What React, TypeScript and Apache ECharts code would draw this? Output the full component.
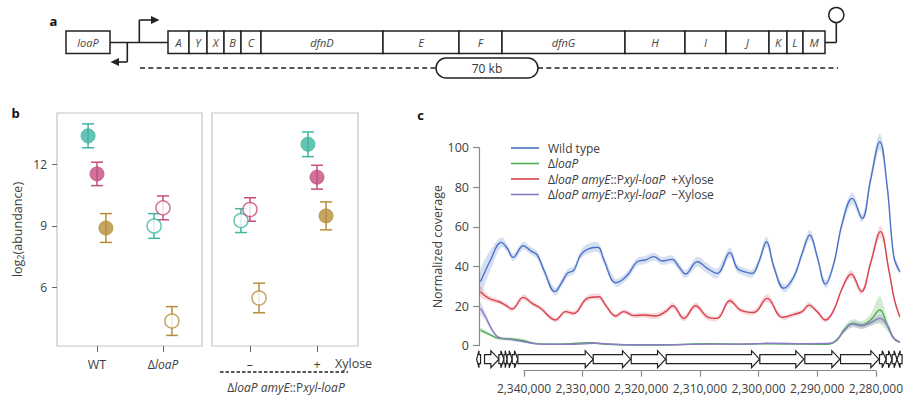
import React, { useEffect, useRef } from 'react';
import * as echarts from 'echarts';

const FONT = '"Open Sans", "Noto Sans", "DejaVu Sans", sans-serif';
const TXT = '#404040';
const INK = '#222';

// ---------- panel a : operon schematic ----------
const operonGenes = ['A', 'Y', 'X', 'B', 'C', 'dfnD', 'E', 'F', 'dfnG', 'H', 'I', 'J', 'K', 'L', 'M'];
const operonWidths = [21, 18, 17, 17, 20, 122, 76, 43, 123, 60, 41, 43, 18, 16, 22];
const operonDotGenes = ['A', 'dfnG', 'M'];

// ---------- panel b : abundance ----------
const groupsLeft = ['WT', 'ΔloaP'];
const groupsRight = ['–', '+'];
const abundanceTicks = [6, 9, 12];
const dfnGMean = [13.38, 9.0, 9.26, 12.97];
const dfnGErr = [0.58, 0.6, 0.58, 0.6];
const dfnAMean = [11.53, 9.88, 9.8, 11.37];
const dfnAErr = [0.57, 0.58, 0.57, 0.58];
const dfnMMean = [8.9, 4.38, 5.5, 9.49];
const dfnMErr = [0.7, 0.7, 0.72, 0.68];
const strainFilled = [true, false, false, true];

// ---------- panel c : coverage (positions in kb) ----------
const wtPos = [2347.34, 2345.65, 2343.86, 2342.84, 2341.83, 2340.15, 2338.91, 2337.78, 2336.66, 2334.81, 2333.57, 2332.73, 2331.6, 2330.48, 2329.35, 2327.56, 2326.54, 2324.58, 2323.45, 2322.33, 2320.92, 2319.52, 2318.11, 2316.71, 2315.02, 2313.89, 2312.77, 2310.8, 2309.12, 2307.43, 2305.3, 2304.06, 2302.93, 2301.53, 2300.4, 2299.11, 2297.88, 2296.19, 2294.5, 2293.1, 2291.8, 2290.57, 2289.16, 2287.76, 2286.35, 2284.66, 2282.98, 2281.57, 2280.0, 2278.76, 2277.64, 2276.63];
const wtCov = [32.3, 43.3, 52.2, 49.2, 44.6, 50.5, 48.0, 45.8, 38.2, 27.3, 32.3, 36.5, 38.2, 45.8, 48.7, 49.7, 43.3, 31.8, 33.2, 36.5, 42.4, 43.3, 45.0, 42.8, 43.6, 39.9, 36.2, 42.4, 39.1, 36.5, 47.0, 39.1, 37.4, 36.5, 42.4, 52.5, 39.9, 29.0, 34.8, 46.6, 55.9, 45.0, 31.1, 41.6, 61.8, 74.4, 64.3, 83.7, 103.0, 80.3, 45.0, 37.4];
const wtSd = [6, 5, 2.5, 2, 2, 2, 2, 2, 2, 2, 2, 2, 2, 2, 2.5, 2.5, 2, 2, 2, 2, 2, 2, 2, 2, 2, 2, 2, 2.5, 2.5, 2.5, 2.5, 2, 2, 2, 2, 2.5, 2, 2, 2, 2, 2.5, 2, 2, 2, 2.5, 3, 2, 3, 4, 3, 2, 1.5];

const xylPlusPos = [2347.34, 2345.94, 2344.25, 2343.13, 2342.0, 2340.15, 2338.63, 2337.22, 2334.69, 2333.01, 2331.6, 2329.35, 2327.39, 2326.26, 2324.58, 2323.17, 2321.48, 2319.8, 2317.83, 2316.14, 2314.91, 2313.05, 2311.08, 2309.12, 2307.43, 2305.3, 2303.5, 2301.25, 2299.0, 2296.47, 2294.5, 2293.1, 2291.97, 2290.57, 2289.16, 2287.76, 2286.35, 2284.83, 2283.09, 2281.57, 2279.89, 2278.48, 2277.53, 2276.63];
const xylPlusCov = [27.3, 23.9, 22.2, 20.5, 18.5, 24.4, 21.4, 18.9, 13.0, 17.2, 16.3, 23.9, 24.7, 20.5, 15.0, 17.2, 15.2, 15.5, 15.0, 17.2, 20.2, 13.8, 20.2, 14.6, 13.8, 22.7, 18.0, 16.8, 23.9, 14.3, 15.8, 17.2, 20.5, 17.2, 13.0, 18.0, 29.0, 36.2, 27.3, 41.6, 57.6, 38.2, 23.1, 14.6];
const xylPlusSd = [2.5, 1.5, 1.2, 1.2, 1.2, 1.5, 1.2, 1.2, 1.2, 1.2, 1.2, 1.5, 1.5, 1.2, 1.2, 1.2, 1.2, 1.2, 1.5, 1.5, 1.5, 1.5, 1.5, 1.5, 1.2, 1.5, 1.2, 1.2, 2, 1.2, 1.2, 1.2, 1.5, 1.2, 1.2, 1.2, 1.5, 2, 1.5, 2, 3, 2, 1.5, 1.2];

const loaPPos = [2347.34, 2345.94, 2344.25, 2342.28, 2340.03, 2338.35, 2334.41, 2328.79, 2325.98, 2320.36, 2314.74, 2309.12, 2303.5, 2297.88, 2292.25, 2288.88, 2287.2, 2286.07, 2284.66, 2282.98, 2281.57, 2280.0, 2278.76, 2277.64, 2276.63];
const loaPCov = [7.9, 5.9, 3.7, 3.4, 2.5, 1.2, 0.7, 1.5, 0.7, 0.3, 0.5, 1.0, 0.8, 1.0, 0.8, 0.7, 2.9, 7.9, 11.3, 10.4, 13.0, 18.0, 10.4, 3.7, 1.9];
const loaPSd = [1, 0.8, 0.8, 1, 0.8, 0.5, 0.3, 0.4, 0.3, 0.3, 0.3, 0.3, 0.3, 0.3, 0.3, 0.3, 0.8, 1.5, 2, 2, 3, 7, 3, 1, 0.5];

const xylMinusPos = [2347.34, 2346.5, 2345.37, 2344.25, 2342.28, 2340.03, 2337.22, 2331.6, 2328.23, 2323.17, 2314.74, 2309.12, 2303.5, 2299.0, 2292.25, 2288.32, 2287.2, 2286.07, 2284.66, 2282.98, 2281.57, 2280.0, 2278.76, 2277.64, 2276.63];
const xylMinusCov = [18.9, 14.6, 7.9, 4.2, 3.2, 2.0, 0.8, 0.7, 1.2, 0.5, 0.5, 0.8, 0.8, 1.2, 1.0, 1.2, 3.2, 7.4, 10.9, 10.1, 11.6, 13.8, 10.4, 3.7, 1.7];
const xylMinusSd = [3, 2, 1, 0.5, 0.5, 0.4, 0.3, 0.3, 0.3, 0.3, 0.3, 0.3, 0.3, 0.3, 0.3, 0.3, 0.5, 1, 1.5, 1.5, 1.5, 2, 1.5, 0.8, 0.5];

// genes under the coverage track: from -> to (kb), arrow points to "to"
const trackGeneFrom = [2347.34, 2346.67, 2344.25, 2343.4, 2342.85, 2342.0, 2341.04, 2328.34, 2321.93, 2316.03, 2300.24, 2292.65, 2286.63, 2280.06, 2278.93, 2277.93, 2276.25];
const trackGeneTo = [2348.0, 2344.25, 2343.4, 2342.85, 2342.0, 2341.04, 2328.34, 2322.05, 2316.14, 2300.29, 2292.82, 2286.75, 2280.17, 2278.93, 2277.93, 2277.1, 2277.1];

const TEAL = '#3fb6a1';
const PINK = '#c64f80';
const GOLD = '#b68e3b';
const BCOLORS = [TEAL, PINK, GOLD];

const LEG_RICH = {
  u: { fontFamily: FONT, fontSize: 12, color: TXT, lineHeight: 16 },
  i: { fontFamily: FONT, fontSize: 12, color: TXT, lineHeight: 16, fontStyle: 'italic' },
  g: { fontFamily: FONT, fontSize: 12, color: TXT, lineHeight: 16, padding: [0, 0, 0, 6] },
  sp: { width: 4 },
};

export default function App() {
  const ref = useRef<HTMLDivElement>(null);
  useEffect(() => {
    if (!ref.current) return;
    const chart = echarts.init(ref.current, null, { renderer: 'svg' });

    // panel a data
    const operonData: number[][] = [];
    let acc = 0;
    operonWidths.forEach((w, i) => { operonData.push([acc, acc + w, i]); acc += w; });
    const operonTotal = acc;
    const dotData = operonDotGenes.map((g, k) => {
      const d = operonData[operonGenes.indexOf(g)];
      return { value: [(d[0] + d[1]) / 2, 1.5], itemStyle: { color: [PINK, TEAL, GOLD][k] } };
    });

    // panel b data
    const genesB = [
      { mean: dfnGMean, err: dfnGErr, c: 0, off: -0.135 },
      { mean: dfnAMean, err: dfnAErr, c: 1, off: 0 },
      { mean: dfnMMean, err: dfnMErr, c: 2, off: 0.135 },
    ];
    const bSeries: any[] = [];
    [0, 1].forEach((p) => {
      const errData: number[][] = [];
      const ptData: any[] = [];
      genesB.forEach((g) => {
        [0, 1].forEach((j) => {
          const i = p * 2 + j;
          const x = j + g.off;
          errData.push([x, g.mean[i], g.err[i], g.c]);
          const col = BCOLORS[g.c];
          ptData.push({
            value: [x, g.mean[i]],
            itemStyle: strainFilled[i]
              ? { color: col, borderColor: col, borderWidth: 1 }
              : { color: '#fff', borderColor: col, borderWidth: 1.5 },
          });
        });
      });
      bSeries.push({
        type: 'custom', xAxisIndex: 1 + p, yAxisIndex: 1 + p, z: 2, silent: true,
        encode: { x: 0, y: 1 },
        data: errData,
        renderItem: (params: any, api: any) => {
          const x = api.value(0), y = api.value(1), e = api.value(2);
          const c = BCOLORS[api.value(3)];
          const t = api.coord([x, y + e]);
          const b = api.coord([x, y - e]);
          const st = { stroke: c, lineWidth: 1.5 };
          return {
            type: 'group', children: [
              { type: 'line', shape: { x1: t[0], y1: t[1], x2: b[0], y2: b[1] }, style: st },
              { type: 'line', shape: { x1: t[0] - 6, y1: t[1], x2: t[0] + 6, y2: t[1] }, style: st },
              { type: 'line', shape: { x1: b[0] - 6, y1: b[1], x2: b[0] + 6, y2: b[1] }, style: st },
            ],
          };
        },
      });
      bSeries.push({
        type: 'scatter', xAxisIndex: 1 + p, yAxisIndex: 1 + p, z: 3, silent: true,
        symbolSize: 14, data: ptData,
      });
    });

    // panel c series
    const lines = [
      { name: 'Wild type', pos: wtPos, v: wtCov, sd: wtSd, color: '#4a73c5', band: 'rgba(74,115,197,0.22)' },
      { name: 'ΔloaP', pos: loaPPos, v: loaPCov, sd: loaPSd, color: '#4fae55', band: 'rgba(79,174,85,0.25)' },
      { name: 'ΔloaP amyE::Pxyl-loaP +Xylose', pos: xylPlusPos, v: xylPlusCov, sd: xylPlusSd, color: '#d9434d', band: 'rgba(217,67,77,0.2)' },
      { name: 'ΔloaP amyE::Pxyl-loaP −Xylose', pos: xylMinusPos, v: xylMinusCov, sd: xylMinusSd, color: '#8b7bc5', band: 'rgba(139,123,197,0.25)' },
    ];
    const cSeries: any[] = [];
    lines.forEach((l) => {
      cSeries.push({
        type: 'custom', xAxisIndex: 3, yAxisIndex: 3, silent: true, z: 2, clip: false,
        encode: { x: 0, y: 1 },
        data: [[Math.round(l.pos[0] * 1000), l.v[0]]],
        renderItem: (params: any, api: any) => {
          const up = l.pos.map((p, i) => api.coord([Math.round(p * 1000), l.v[i] + l.sd[i]]));
          const lo = l.pos.map((p, i) => api.coord([Math.round(p * 1000), l.v[i] - l.sd[i]])).reverse();
          return {
            type: 'polygon',
            shape: { points: up.concat(lo), smooth: 0.35 },
            style: { fill: l.band },
          };
        },
      });
    });
    lines.forEach((l) => {
      cSeries.push({ type: 'line', name: l.name, xAxisIndex: 3, yAxisIndex: 3, smooth: 0.4, symbol: 'none', clip: false, z: 4, silent: true,
        data: l.pos.map((p, i) => [Math.round(p * 1000), l.v[i]]),
        itemStyle: { color: l.color }, lineStyle: { color: l.color, width: 1.4 } });
    });
    cSeries.push({
      type: 'custom', xAxisIndex: 3, yAxisIndex: 3, clip: false, silent: true, z: 4,
      encode: { x: 0 },
      data: trackGeneFrom.map((f, i) => [Math.round(f * 1000), Math.round(trackGeneTo[i] * 1000)]),
      renderItem: (params: any, api: any) => {
        const a = api.coord([api.value(0), 0]);
        const b = api.coord([api.value(1), 0]);
        const y0 = a[1];
        const x1 = a[0], x2 = b[0];
        const dir = x2 > x1 ? 1 : -1;
        const w = Math.abs(x2 - x1);
        const head = Math.min(8, w * 0.6);
        const xh = x2 - dir * head;
        const top = y0 + 5, bt = y0 + 9, mid = y0 + 13.5, bb = y0 + 18, bot = y0 + 22;
        return {
          type: 'polygon',
          shape: { points: [[x1, bt], [xh, bt], [xh, top], [x2, mid], [xh, bot], [xh, bb], [x1, bb]] },
          style: { fill: '#fff', stroke: INK, lineWidth: 1.2 },
        };
      },
    });

    const legendLabel: Record<string, string> = {
      'Wild type': '{sp|}{u|Wild type}',
      'ΔloaP': '{sp|}{u|Δ}{i|loaP}',
      'ΔloaP amyE::Pxyl-loaP +Xylose': '{sp|}{u|Δ}{i|loaP amyE}{u|::P}{i|xyl-loaP}{g|+Xylose}',
      'ΔloaP amyE::Pxyl-loaP −Xylose': '{sp|}{u|Δ}{i|loaP amyE}{u|::P}{i|xyl-loaP}{g|−Xylose}',
    };

    const line = (x1: number, y1: number, x2: number, y2: number, extra: any = {}) => ({
      type: 'line', shape: { x1, y1, x2, y2 }, style: { stroke: INK, lineWidth: 1.6, ...extra }, silent: true,
    });
    const text = (t: string, x: number, y: number, st: any = {}) => ({
      type: 'text', silent: true,
      style: { text: t, x, y, align: 'center', verticalAlign: 'middle', fontFamily: FONT, fontSize: 12, fill: TXT, ...st },
    });

    const bAxisLabel = (labels: string[]) => ({
      customValues: [0, 1],
      formatter: (v: number) => (labels[Math.round(v)] === 'ΔloaP' ? '{u|Δ}{i|loaP}' : '{u|' + labels[Math.round(v)] + '}'),
      margin: 12,
      rich: { u: { fontFamily: FONT, fontSize: 12.5, color: TXT }, i: { fontFamily: FONT, fontSize: 12, color: TXT, fontStyle: 'italic' } },
    });
    const bTick = { show: true, customValues: [0, 1], length: 6, lineStyle: { color: '#666', width: 1 } };

    const option: any = {
      animation: false,
      backgroundColor: '#fff',
      textStyle: { fontFamily: FONT },
      grid: [
        { left: 168, top: 31, width: operonTotal, height: 22.5 },
        { left: 57, top: 113, width: 145, height: 233, show: true, borderColor: '#c4c4c4', borderWidth: 1.2, backgroundColor: 'transparent' },
        { left: 212, top: 113, width: 146, height: 233, show: true, borderColor: '#c4c4c4', borderWidth: 1.2, backgroundColor: 'transparent' },
        { left: 479, top: 147.7, width: 421, height: 198 },
        { left: 524, top: 369.7, width: 356, height: 1 },
      ],
      xAxis: [
        { gridIndex: 0, type: 'value', min: 0, max: operonTotal, show: false },
        { gridIndex: 1, type: 'value', min: -0.606, max: 1.591, axisLine: { show: false, onZero: false }, splitLine: { show: false },
          axisTick: bTick, axisLabel: bAxisLabel(groupsLeft) },
        { gridIndex: 2, type: 'value', min: -0.567, max: 1.612, axisLine: { show: false, onZero: false }, splitLine: { show: false },
          axisTick: bTick, axisLabel: bAxisLabel(groupsRight) },
        { gridIndex: 3, type: 'value', inverse: true, min: 2276600, max: 2347600, show: false },
        { gridIndex: 4, type: 'value', inverse: true, min: 2280000, max: 2340000, interval: 10000,
          axisLine: { show: true, onZero: false, lineStyle: { color: '#8a8a8a', width: 1.2 } },
          axisTick: { show: true, length: 6, lineStyle: { color: '#8a8a8a', width: 1.2 } },
          splitLine: { show: false },
          axisLabel: { margin: 12, fontSize: 12, color: TXT, fontFamily: FONT, formatter: (v: number) => v.toLocaleString('en-US') } },
      ],
      yAxis: [
        { gridIndex: 0, type: 'value', min: 0, max: 1, show: false },
        { gridIndex: 1, type: 'value', min: 3.166, max: 14.49, axisLine: { show: false, onZero: false }, splitLine: { show: false },
          axisTick: { show: true, customValues: abundanceTicks, length: 5, lineStyle: { color: '#666', width: 1 } },
          axisLabel: { customValues: abundanceTicks, margin: 10, fontSize: 12, color: TXT, fontFamily: FONT },
          name: 'log{s|2}(abundance)', nameLocation: 'middle', nameGap: 32, nameRotate: 90,
          nameTextStyle: { fontFamily: FONT, fontSize: 12.5, color: TXT,
            rich: { s: { fontFamily: FONT, fontSize: 9, color: TXT, verticalAlign: 'bottom', padding: [6, 0, 0, 0] } } } },
        { gridIndex: 2, type: 'value', min: 3.166, max: 14.49, axisLine: { show: false, onZero: false }, splitLine: { show: false },
          axisTick: { show: false }, axisLabel: { show: false } },
        { gridIndex: 3, type: 'value', min: 0, max: 100, interval: 20,
          axisLine: { show: true, onZero: false, lineStyle: { color: '#8a8a8a', width: 1.2 } },
          axisTick: { show: true, length: 6, lineStyle: { color: '#8a8a8a', width: 1.2 } },
          splitLine: { show: false },
          axisLabel: { margin: 10, fontSize: 12.5, color: TXT, fontFamily: FONT },
          name: 'Normalized coverage', nameLocation: 'middle', nameGap: 35, nameRotate: 90,
          nameTextStyle: { fontFamily: FONT, fontSize: 12.5, color: TXT } },
        { gridIndex: 4, type: 'value', min: 0, max: 1, show: false },
      ],
      legend: {
        data: lines.map((l) => l.name),
        orient: 'vertical', left: 506, top: 137, itemWidth: 28, itemHeight: 1.6, icon: 'rect', itemGap: 3.5,
        selectedMode: false,
        formatter: (n: string) => legendLabel[n],
        textStyle: { fontFamily: FONT, fontSize: 12, color: TXT, rich: LEG_RICH },
      },
      series: [
        {
          type: 'custom', xAxisIndex: 0, yAxisIndex: 0, silent: true, encode: { x: [0, 1] },
          data: operonData,
          renderItem: (params: any, api: any) => {
            const s = api.coord([api.value(0), 1]);
            const e = api.coord([api.value(1), 0]);
            return {
              type: 'group', children: [
                { type: 'rect', shape: { x: s[0], y: s[1], width: e[0] - s[0], height: e[1] - s[1] }, style: { fill: '#fff', stroke: INK, lineWidth: 1.5 } },
                { type: 'text', style: { text: operonGenes[api.value(2)], x: (s[0] + e[0]) / 2, y: (s[1] + e[1]) / 2 + 0.5, align: 'center', verticalAlign: 'middle', fontFamily: FONT, fontSize: 11, fontStyle: 'italic', fill: '#444' } },
              ],
            };
          },
        },
        { type: 'scatter', xAxisIndex: 0, yAxisIndex: 0, silent: true, symbolSize: 13, data: dotData },
        ...bSeries,
        ...cSeries,
      ],
      graphic: {
        elements: [
          text('a', 53.5, 21, { fontWeight: 'bold', fill: '#111', fontSize: 13 }),
          text('b', 15.5, 113, { fontWeight: 'bold', fill: '#111', fontSize: 13 }),
          text('c', 420.5, 115, { fontWeight: 'bold', fill: '#111', fontSize: 13 }),
          // loaP box
          { type: 'rect', shape: { x: 66, y: 31, width: 44, height: 22.5 }, style: { fill: '#fff', stroke: INK, lineWidth: 1.5 }, silent: true },
          text('loaP', 88, 42.5, { fontStyle: 'italic', fontSize: 11, fill: '#444' }),
          line(110, 42.5, 168, 42.5),
          // forward promoter
          line(139.3, 42.5, 139.3, 20),
          line(139.3, 20, 152, 20),
          { type: 'polygon', shape: { points: [[159.5, 20], [151, 16], [151, 24]] }, style: { fill: INK }, silent: true },
          // reverse promoter
          line(127.3, 42.5, 127.3, 62),
          line(127.3, 62, 118, 62),
          { type: 'polygon', shape: { points: [[110.5, 62], [119, 58], [119, 66]] }, style: { fill: INK }, silent: true },
          // terminator
          line(825, 42.5, 836.3, 42.5),
          line(836.3, 42.5, 836.3, 22.5),
          { type: 'circle', shape: { cx: 836.3, cy: 15, r: 7.5 }, style: { fill: '#fff', stroke: INK, lineWidth: 1.5 }, silent: true },
          // 70 kb span
          line(140, 68, 436, 68, { lineDash: [5, 3.3], lineWidth: 1.6 }),
          line(538, 68, 838, 68, { lineDash: [5, 3.3], lineWidth: 1.6 }),
          { type: 'rect', shape: { x: 436, y: 58, width: 102, height: 20, r: 10 }, style: { fill: '#fff', stroke: INK, lineWidth: 1.5 }, silent: true },
          text('70 kb', 487, 68, { fontSize: 12, fill: '#333' }),
          // panel b annotations
          text('Xylose', 335, 363, { align: 'left', fontSize: 12.5 }),
          line(220, 372, 348, 372, { lineDash: [3.5, 2], lineWidth: 1.6 }),
          {
            type: 'text', silent: true,
            style: {
              text: '{u|Δ}{i|loaP amyE}{u|::P}{i|xyl-loaP}', x: 286, y: 387, align: 'center', verticalAlign: 'middle',
              rich: {
                u: { fontFamily: FONT, fontSize: 12, fill: TXT },
                i: { fontFamily: FONT, fontSize: 12, fill: TXT, fontStyle: 'italic' },
              },
            },
          },
        ],
      },
    };
    chart.setOption(option);
    return () => chart.dispose();
  }, []);
  return <div ref={ref} style={{ position: 'fixed', left: 0, top: 0, width: 906, height: 399 }} />;
}
